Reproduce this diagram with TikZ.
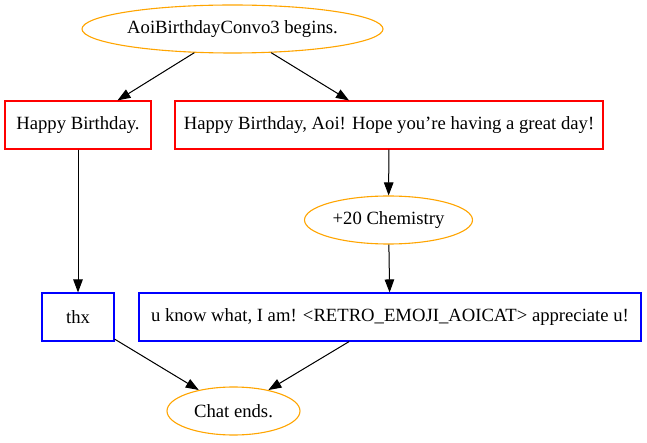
\documentclass[tikz,border=0pt]{standalone}
\usepackage{fontspec}
\setmainfont{Liberation Serif}
\usetikzlibrary{arrows.meta,shapes.geometric}
\definecolor{gvorange}{RGB}{255,165,0}
\definecolor{gvred}{RGB}{255,0,0}
\definecolor{gvblue}{RGB}{0,0,255}
\begin{document}
\begin{tikzpicture}[x=1pt,y=-1pt,
  every node/.style={font=\fontsize{18.67}{22}\selectfont, inner sep=0pt},
  ov/.style={ellipse, draw=gvorange, line width=1.1pt, minimum height=48pt},
  rbox/.style={rectangle, draw=gvred, line width=1.1pt, minimum height=48pt},
  bbox/.style={rectangle, draw=gvblue, line width=1.1pt, minimum height=48pt},
  arr/.style={-{Triangle[length=13pt,width=9.5pt]}, line width=1pt, draw=black, fill=black}]
\fill[white] (0,0) rectangle (647,443);
\useasboundingbox (0,0) rectangle (647,443);
\node[ov, minimum width=301pt] (start) at (232.5,29) {AoiBirthdayConvo3 begins.};
\node[rbox, minimum width=146pt] (hb) at (78,125) {Happy Birthday.};
\node[rbox, minimum width=428pt] (hbl) at (389,125) {Happy Birthday, Aoi! Hope you’re having a great day!};
\node[ov, minimum width=168pt] (chem) at (388.5,220) {+20 Chemistry};
\node[bbox, minimum width=72pt] (thx) at (78,317) {thx};
\node[bbox, minimum width=502pt] (uk) at (390,317) {u know what, I am! <RETRO\_EMOJI\_AOICAT> appreciate u!};
\node[ov, minimum width=133pt] (end) at (233.5,411) {Chat ends.};
\draw[arr] (start) -- (hb);
\draw[arr] (start) -- (hbl);
\draw[arr] (hb) -- (thx);
\draw[arr] (hbl) -- (chem);
\draw[arr] (chem) -- (uk);
\draw[arr] (thx) -- (end);
\draw[arr] (uk) -- (end);
\end{tikzpicture}
\end{document}
